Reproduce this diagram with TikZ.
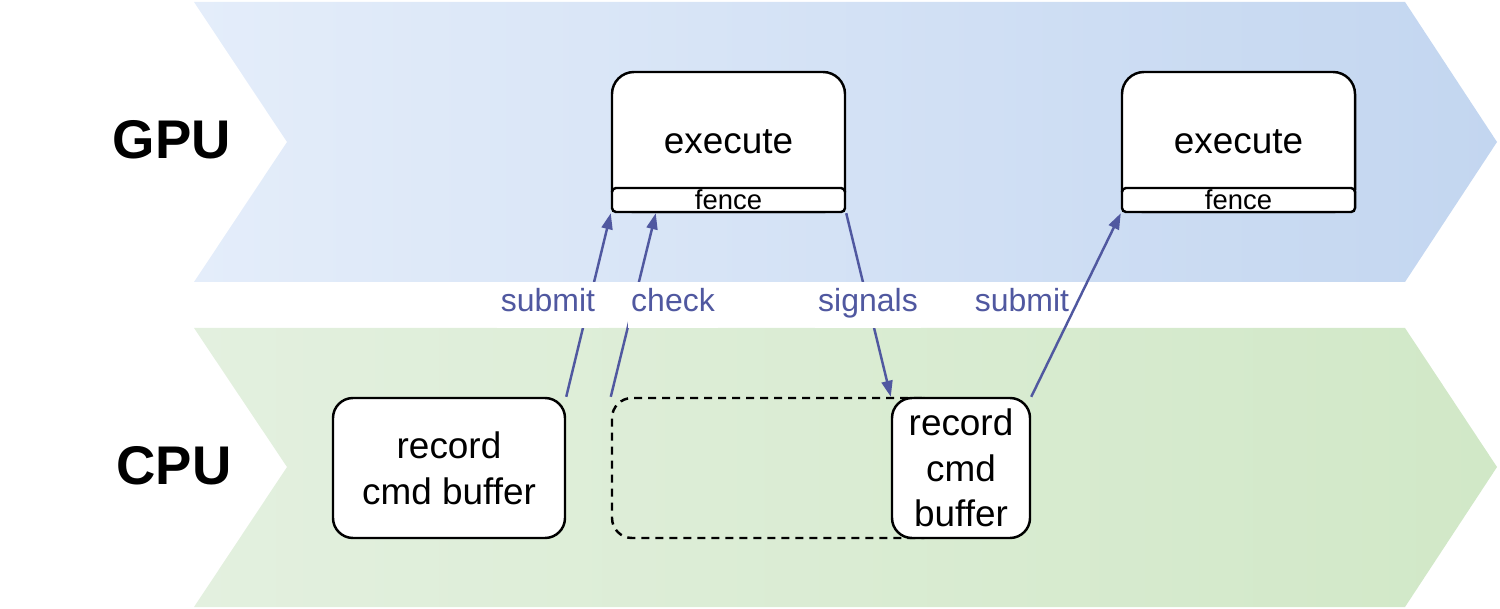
\documentclass[tikz,border=0pt]{standalone}
\usepackage{fontspec}
\setmainfont{Liberation Sans}
\usetikzlibrary{arrows.meta,calc}
\definecolor{gpuleft}{RGB}{228,237,250}
\definecolor{gpuright}{RGB}{195,214,240}
\definecolor{cpuleft}{RGB}{227,240,223}
\definecolor{cpuright}{RGB}{209,232,199}
\definecolor{linkblue}{RGB}{80,88,160}
\begin{document}
\begin{tikzpicture}[x=0.1mm,y=-0.1mm,
  box/.style={draw,fill=white,line width=0.7pt,rounded corners=2mm,align=center,inner sep=0pt,
    font=\fontsize{10.5}{13}\selectfont},
  lbl/.style={text=linkblue,font=\fontsize{9.1}{11}\selectfont,text height=2.3mm,text depth=1mm,inner xsep=1pt},
  cut/.style={fill=white,inner ysep=0pt,minimum height=4.6mm},
  link/.style={linkblue,line width=0.7pt,-{Triangle[length=1.6mm,width=1.1mm]}},
  unit/.style={font=\fontsize{15.5}{18}\selectfont\bfseries}]
\useasboundingbox (0,0) rectangle (1500,609);
\shade[left color=gpuleft,right color=gpuright] (194,2) -- (1405,2) -- (1497,142) -- (1405,282) -- (194,282) -- (287,142) -- cycle;
\shade[left color=cpuleft,right color=cpuright] (194,328) -- (1405,328) -- (1497,467) -- (1405,607) -- (194,607) -- (287,467) -- cycle;

\node[unit] (gpu) at (172,140) {GPU};
\node[unit] (cpu) at (174,466) {CPU};

\node[box,rounded corners=2.2mm,minimum width=23.3mm,minimum height=14mm] (ex1) at (728.5,142) {execute};
\node[box,rounded corners=0.4mm,minimum width=23.3mm,minimum height=2.4mm,font=\fontsize{7.8}{8}\selectfont] (fn1) at (728.5,200) {fence};
\node[box,rounded corners=2.2mm,minimum width=23.3mm,minimum height=14mm] (ex2) at (1238.5,142) {execute};
\node[box,rounded corners=0.4mm,minimum width=23.3mm,minimum height=2.4mm,font=\fontsize{7.8}{8}\selectfont] (fn2) at (1238.5,200) {fence};

\node[box] (rec1) [minimum width=23.2mm,minimum height=14mm] at (449,468) {record\\cmd buffer};
\node[box,dashed,dash pattern=on 0.8mm off 0.6mm,fill=none,minimum width=33mm,minimum height=14mm] (idle) at (777,468) {};
\node[box] (rec2) [minimum width=13.8mm,minimum height=14mm] at (961,468) {record\\cmd\\buffer};

\draw[link] (rec1.north east) -- (ex1.south west);
\draw[link] (idle.north west) -- ($(ex1.south west)+(45,0)$);
\draw[link] (ex1.south east) -- (rec2.north west);
\draw[link] (rec2.north east) -- (ex2.south west);

\node[lbl,cut] (sub1) at (548,305) {submit};
\node[lbl,cut] (chk) at (673,305) {check};
\node[lbl,cut] (sig) at (868,305) {signals};
\node[lbl] (sub2) at (1022,305) {submit};
\end{tikzpicture}
\end{document}
